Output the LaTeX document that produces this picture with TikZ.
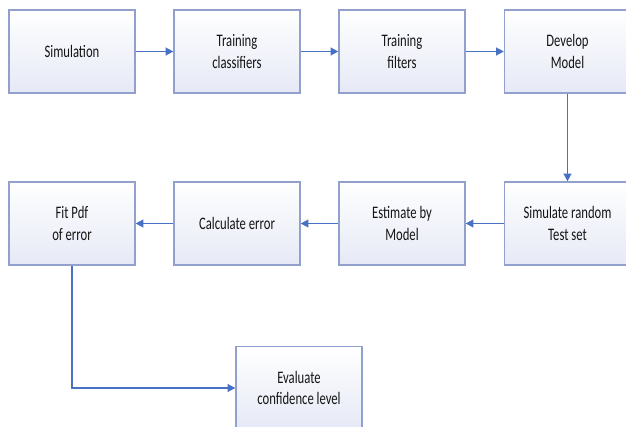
\documentclass[tikz,border=0pt]{standalone}
\usepackage{fontspec}
\setmainfont{Carlito}[FakeStretch=0.72]
\usepackage{tikz}
\usetikzlibrary{arrows.meta,calc}
\definecolor{boxline}{RGB}{145,160,205}
\definecolor{boxfill}{RGB}{230,233,246}
\definecolor{flowblue}{RGB}{72,112,196}
\definecolor{txt}{RGB}{20,20,20}
\tikzstyle{stepbox}=[rectangle,draw=boxline,line width=0.9pt,top color=white,bottom color=boxfill,minimum width=3.15cm,minimum height=2.075cm,inner sep=0pt,align=center,text=txt,font=\fontsize{12.5}{15}\selectfont]
\tikzstyle{flow}=[draw=flowblue,line width=1.2pt,-{Triangle[length=5.5pt,width=5.5pt]}]

\begin{document}
\begin{tikzpicture}[x=0.025cm,y=-0.025cm]

    \useasboundingbox (0,0) rectangle (626,427);
    \clip (0,0) rectangle (626,427);

    % first row
    \foreach \pos/ \name / \label in {{(72,51.5)/sim/Simulation},
        {(237,51.5)/trc/Training\\classifiers},
        {(402,51.5)/trf/Training\\filters},
        {(567.5,51.5)/dev/Develop\\Model}}
        \node[stepbox] (\name) at \pos {\label};

    % second row
    \foreach \pos/ \name / \label in {{(72,223.5)/fit/Fit Pdf\\of error},
        {(237,223.5)/cal/Calculate error},
        {(402,223.5)/est/Estimate by\\Model},
        {(567.5,223.5)/srt/Simulate random\\Test set}}
        \node[stepbox] (\name) at \pos {\label};

    \node[stepbox] (eval) at (299,388) {Evaluate\\confidence level};

    \foreach \a/ \b in {sim/trc, trc/trf, trf/dev, dev/srt, srt/est, est/cal, cal/fit}
        \draw[flow] (\a) -- (\b);
    \draw[flow] (fit) |- (eval);
\end{tikzpicture}
\end{document}
